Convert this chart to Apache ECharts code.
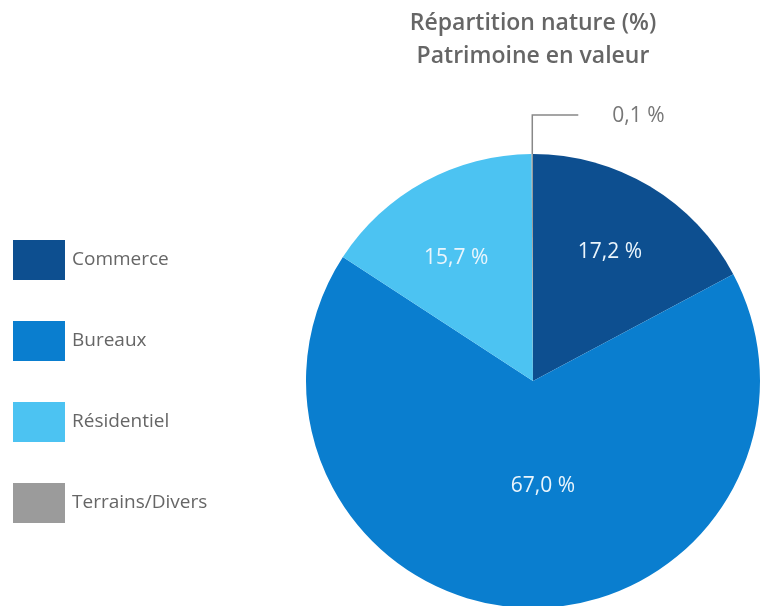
<!DOCTYPE html>
<html>
<head>
<meta charset="utf-8">
<script src="https://cdn.jsdelivr.net/npm/echarts@6/dist/echarts.min.js"></script>
<style>
  html, body { margin: 0; padding: 0; background: #ffffff; }
  #chart { width: 763px; height: 606px; }
</style>
</head>
<body>
<div id="chart"></div>
<script>
// Répartition du patrimoine par nature, en % de la valeur
const categories = ['Commerce', 'Bureaux', 'Résidentiel', 'Terrains/Divers'];
const shares = [17.2, 67.0, 15.7, 0.1];
const colors = ['#0d4f90', '#0a7ecf', '#4cc3f2', '#9b9b9b'];

// Décalages des étiquettes intérieures par rapport à la position par défaut
const labelShift = [[17, -29], [15, -11], [-21, -21]];

const fmt = v => v.toFixed(1).replace('.', ',') + ' %';

const chart = echarts.init(document.getElementById('chart'));
chart.setOption({
  animation: false,
  title: {
    text: 'Répartition nature (%)\nPatrimoine en valeur',
    left: 528,
    top: 2,
    textAlign: 'center',
    textStyle: {
      fontFamily: 'Open Sans',
      fontSize: 23,
      fontWeight: 600,
      color: '#666666',
      lineHeight: 33
    }
  },
  legend: {
    orient: 'vertical',
    left: 8,
    top: 235,
    itemWidth: 52,
    itemHeight: 40,
    itemGap: 41,
    icon: 'rect',
    data: categories,
    textStyle: { fontFamily: 'Open Sans', fontSize: 19, color: '#666666', padding: [4, 0, 0, 2] }
  },
  series: [{
    type: 'pie',
    center: [533, 381],
    radius: [0, 227],
    startAngle: 90,
    clockwise: true,
    avoidLabelOverlap: false,
    data: categories.map((name, i) => ({
      name,
      value: shares[i],
      itemStyle: { color: colors[i] },
      label: i === 3
        ? { position: 'outside', color: '#777777' }
        : { position: 'inside', color: '#eaf5fc' },
      labelLine: i === 3
        ? { show: true, length: 39, length2: 46, lineStyle: { color: '#888888', width: 1.5 } }
        : { show: false }
    })),
    label: {
      formatter: p => fmt(p.value),
      fontFamily: 'Open Sans',
      fontSize: 21
    },
    labelLayout: function (params) {
      const i = params.dataIndex;
      if (i < 3) {
        return { dx: labelShift[i][0], dy: labelShift[i][1] };
      }
      // Étiquette de la petite part : trait vertical puis horizontal vers la droite
      const pts = params.labelLinePoints;
      if (!pts) return {};
      const p0 = pts[0];
      const top = [p0[0], p0[1] - 39];
      const end = [p0[0] + 46, p0[1] - 39];
      return {
        x: end[0] + 34,
        y: end[1] + 1,
        align: 'left',
        verticalAlign: 'middle',
        labelLinePoints: [p0, top, end]
      };
    }
  }]
});
</script>
</body>
</html>
